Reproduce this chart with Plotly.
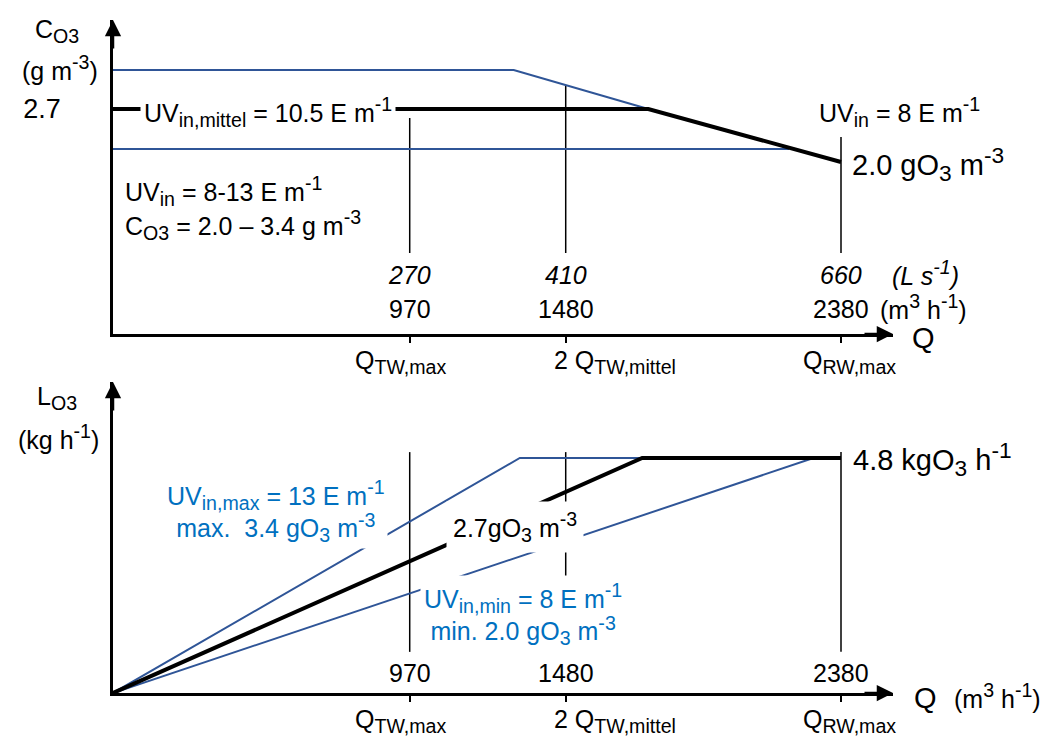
import plotly.graph_objects as go

# ---------------------------------------------------------------- data
# characteristic flows (m3/h) and the same flows in L/s
q_marks = [970, 1480, 2380]
q_marks_ls = [270, 410, 660]

# upper diagram: ozone concentration C_O3 (g/m3) versus flow Q (m3/h)
c_max_q = [0, 1310, 1750]
c_max_c = [3.215, 3.215, 2.7]
c_mid_q = [0, 1750, 2380]
c_mid_c = [2.7, 2.7, 2.0]
c_min_q = [0, 2210]
c_min_c = [2.172, 2.172]
c_ticks = [2.7]

# lower diagram: ozone load L_O3 (kg/h) versus flow Q (m3/h)
l_max_q = [0, 1330, 1730]
l_max_l = [0, 4.8, 4.8]
l_mid_q = [0, 1730, 2380]
l_mid_l = [0, 4.8, 4.8]
l_min_q = [0, 2290]
l_min_l = [0, 4.8]

# extent of the thin marker lines at the characteristic flows
c_guide_top = [2.581, 3.017, 2.330]
c_guide_bottom = 0.798
l_guide_top = [4.92, 4.92, 4.92]
l_guide_bottom = 0.84

# ---------------------------------------------------------------- style
W, H = 1043, 745
FONT = "Liberation Sans, Arial, sans-serif"
BLUE_LINE = "#2F5597"
BLUE_TEXT = "#0070C0"


def px(x):
    return x / W


def py(y):
    return 1 - y / H


def sub(t):
    # slightly larger sub-/superscripts than the plotly default of 70 %
    return f"<sub><span style='font-size:112%'>{t}</span></sub>"


def sup(t):
    return f"<sup><span style='font-size:112%'>{t}</span></sup>"


q_names = ["Q" + sub("TW,max"), "2 Q" + sub("TW,mittel"), "Q" + sub("RW,max")]

fig = go.Figure()

# thin marker lines at the characteristic flows
for q, top in zip(q_marks, c_guide_top):
    fig.add_trace(go.Scatter(x=[q, q], y=[c_guide_bottom, top], mode="lines",
                             line=dict(color="black", width=1.5),
                             xaxis="x", yaxis="y", hoverinfo="skip"))
for q, top in zip(q_marks, l_guide_top):
    fig.add_trace(go.Scatter(x=[q, q], y=[l_guide_bottom, top], mode="lines",
                             line=dict(color="black", width=1.5),
                             xaxis="x2", yaxis="y2", hoverinfo="skip"))

# concentration curves
fig.add_trace(go.Scatter(x=c_max_q, y=c_max_c, mode="lines",
                         line=dict(color=BLUE_LINE, width=2), xaxis="x", yaxis="y"))
fig.add_trace(go.Scatter(x=c_min_q, y=c_min_c, mode="lines",
                         line=dict(color=BLUE_LINE, width=2), xaxis="x", yaxis="y"))
fig.add_trace(go.Scatter(x=c_mid_q, y=c_mid_c, mode="lines",
                         line=dict(color="black", width=4), xaxis="x", yaxis="y"))

# load curves
fig.add_trace(go.Scatter(x=l_max_q, y=l_max_l, mode="lines",
                         line=dict(color=BLUE_LINE, width=2), xaxis="x2", yaxis="y2"))
fig.add_trace(go.Scatter(x=l_min_q, y=l_min_l, mode="lines",
                         line=dict(color=BLUE_LINE, width=2), xaxis="x2", yaxis="y2"))
fig.add_trace(go.Scatter(x=l_mid_q, y=l_mid_l, mode="lines",
                         line=dict(color="black", width=4), xaxis="x2", yaxis="y2"))

x_dom = [px(113), px(893)]
x_range = [0, 2550]
axis_common = dict(showline=True, linecolor="black", linewidth=2.5,
                   showgrid=False, zeroline=False)

fig.update_layout(
    width=W, height=H,
    margin=dict(l=0, r=0, t=0, b=0),
    paper_bgcolor="white", plot_bgcolor="white",
    showlegend=False,
    font=dict(family=FONT, size=25, color="black"),
    xaxis=dict(domain=x_dom, range=x_range, anchor="y",
               tickvals=q_marks, showticklabels=False,
               ticks="outside", ticklen=6, tickwidth=2, tickcolor="black",
               **axis_common),
    yaxis=dict(domain=[py(334), py(20)], range=[-0.2717, 3.8755], anchor="x",
               tickvals=c_ticks, ticktext=[f"{v:.1f}" for v in c_ticks],
               ticks="", tickfont=dict(size=27), ticklabelstandoff=44,
               **axis_common),
    xaxis2=dict(domain=x_dom, range=x_range, anchor="y2",
                tickvals=q_marks, showticklabels=False,
                ticks="outside", ticklen=6, tickwidth=2, tickcolor="black",
                **axis_common),
    yaxis2=dict(domain=[py(693), py(382)], range=[0, 6.352], anchor="x2",
                showticklabels=False, ticks="", **axis_common),
)

annotations = []


def note(text, x, y, size=25, color="black", xanchor="left", xref="paper",
         bg=None, pad=1):
    annotations.append(dict(
        text=text, x=x, y=y, xref=xref, yref="paper",
        xanchor=xanchor, yanchor="middle", showarrow=False, align="center",
        font=dict(family=FONT, size=size, color=color),
        bgcolor=bg if bg else "rgba(0,0,0,0)", borderpad=pad,
    ))


def arrow_head(x, y, ax, ay):
    annotations.append(dict(
        x=x, y=y, xref="paper", yref="paper", ax=ax, ay=ay,
        axref="pixel", ayref="pixel", text="", showarrow=True,
        arrowhead=2, arrowsize=1.3, arrowwidth=2.5, arrowcolor="black",
    ))


# axis arrow heads
arrow_head(px(893), py(334), -30, 0)
arrow_head(px(113), py(20), 0, 30)
arrow_head(px(893), py(693), -30, 0)
arrow_head(px(113), py(382), 0, 30)

# upper diagram texts
note("C" + sub("O3"), px(57), py(31), xanchor="center")
note("(g m" + sup("-3") + ")", px(60), py(68), xanchor="center")
note("UV" + sub("in,mittel") + " = 10.5 E m" + sup("-1"), px(140), py(112),
     bg="white", pad=3)
note("UV" + sub("in") + " = 8 E m" + sup("-1"), px(817), py(112))
note("2.0 gO" + sub("3") + " m" + sup("-3"), px(850), py(164), size=29)
note("UV" + sub("in") + " = 8-13 E m" + sup("-1"), px(123), py(191))
note("C" + sub("O3") + " = 2.0 \u2013 3.4 g m" + sup("-3"), px(123), py(225))
for q, ls in zip(q_marks, q_marks_ls):
    note(f"<i>{ls}</i>", q, py(275), xanchor="center", xref="x")
    note(f"{q}", q, py(309), xanchor="center", xref="x")
note("<i>(L s" + sup("-1") + ")</i>", px(890), py(273))
note("(m" + sup("3") + " h" + sup("-1") + ")", px(878), py(307))
note("Q", px(910), py(338), size=29)
for left, name in zip([353, 552, 801], q_names):
    note(name, px(left), py(362))

# lower diagram texts
note("L" + sub("O3"), px(57), py(398), xanchor="center")
note("(kg h" + sup("-1") + ")", px(58), py(437), xanchor="center")
note("4.8 kgO" + sub("3") + " h" + sup("-1"), px(851), py(459), size=29)
note("UV" + sub("in,max") + " = 13 E m" + sup("-1")
     + "<br>max.  3.4 gO" + sub("3") + " m" + sup("-3"),
     px(276), py(511), color=BLUE_TEXT, xanchor="center", bg="white", pad=2)
note("2.7gO" + sub("3") + " m" + sup("-3"), px(515), py(527),
     xanchor="center", bg="white", pad=6)
note("UV" + sub("in,min") + " = 8 E m" + sup("-1")
     + "<br>min. 2.0 gO" + sub("3") + " m" + sup("-3"),
     px(523), py(614), color=BLUE_TEXT, xanchor="center", bg="white", pad=3)
for q in q_marks:
    note(f"{q}", q, py(673), xanchor="center", xref="x")
note("Q", px(912), py(698), size=29)
note("(m" + sup("3") + " h" + sup("-1") + ")", px(952), py(696))
for left, name in zip([353, 552, 801], q_names):
    note(name, px(left), py(721))

fig.update_layout(annotations=annotations)

fig.write_html("out.html")
